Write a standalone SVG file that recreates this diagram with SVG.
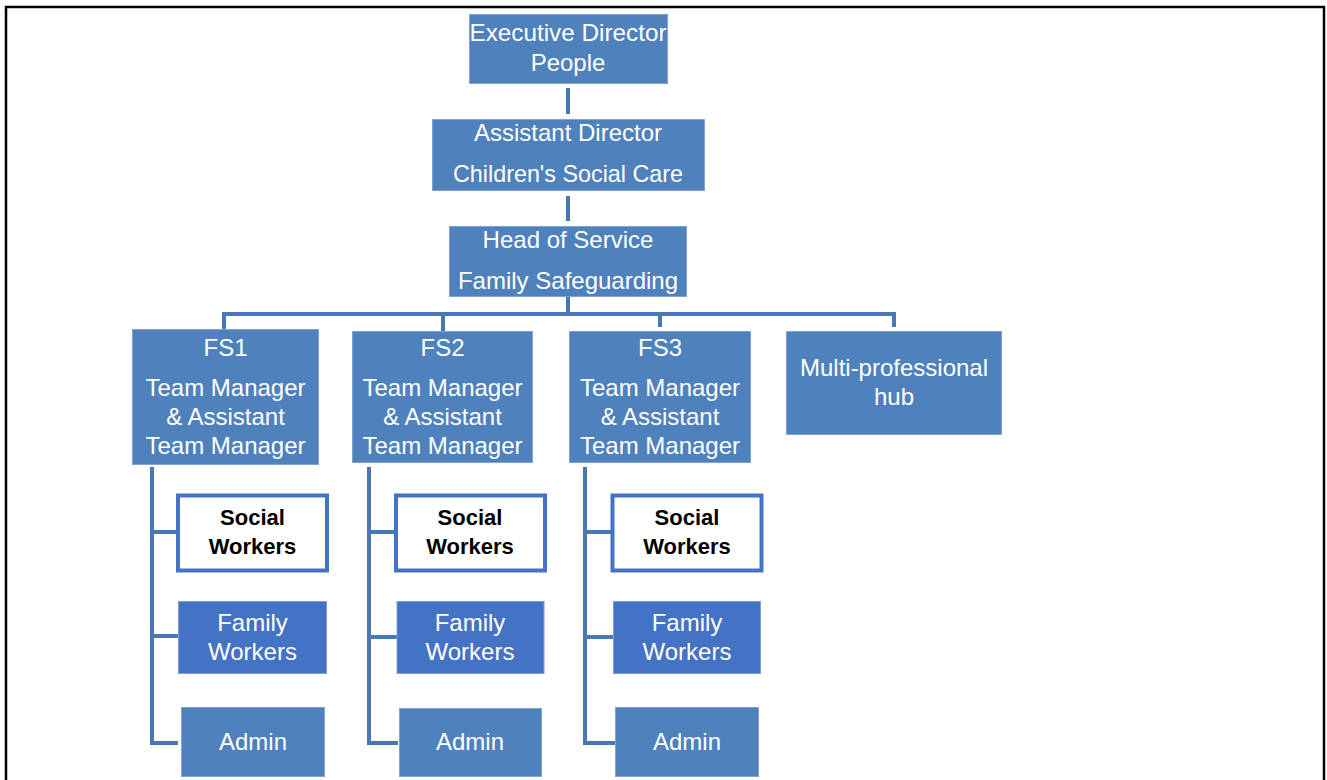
<svg xmlns="http://www.w3.org/2000/svg" width="1327" height="780" viewBox="0 0 1327 780">
<style>
.box{fill:#4F81BD;stroke:#7FA3D3;stroke-width:1}
.fw{fill:#4472C4;stroke:#7F9FD8;stroke-width:1}
.sw{fill:#ffffff;stroke:#4472C4;stroke-width:4}
.t{font-family:"Liberation Sans",Arial,sans-serif;font-size:24px;fill:#ffffff;text-anchor:middle}
.b{font-family:"Liberation Sans",Arial,sans-serif;font-size:22px;font-weight:bold;fill:#000000;text-anchor:middle}
.ln{fill:none;stroke:#4A78B4;stroke-width:4}
</style>
<rect width="1327" height="780" fill="#ffffff"/>
<path d="M6,780 V7 H1324 V780" fill="none" stroke="#000000" stroke-width="2.5"/>
<g id="connectors">
<path class="ln" d="M568,88 V114"/>
<path class="ln" d="M568,196 V221"/>
<path class="ln" d="M568,296 V314 M224,329 V314 H894 V327 M443,314 V331 M660,314 V327"/>
<path class="ln" d="M152,467 V743 H178 M152,532 H178 M152,636 H180"/>
<path class="ln" d="M369,467 V743 H398 M369,532 H395 M369,637 H398"/>
<path class="ln" d="M585,467 V743 H615 M585,532 H612 M585,637 H614"/>
</g>
<g id="exec"><rect class="box" x="469.5" y="14.5" width="198" height="69"/>
<text class="t" x="568" y="41" textLength="197" lengthAdjust="spacingAndGlyphs">Executive Director</text><text class="t" x="568" y="71">People</text></g>
<g id="ad"><rect class="box" x="432.5" y="119.5" width="272" height="71"/>
<text class="t" x="568" y="141">Assistant Director</text><text class="t" x="568" y="182" textLength="230" lengthAdjust="spacingAndGlyphs">Children's Social Care</text></g>
<g id="hos"><rect class="box" x="449.5" y="226.5" width="237" height="70"/>
<text class="t" x="568" y="248">Head of Service</text><text class="t" x="568" y="289">Family Safeguarding</text></g>
<g id="fs1"><rect class="box" x="132.5" y="329.5" width="186" height="135"/>
<text class="t" x="225.5" y="356">FS1</text><text class="t" x="225.5" y="396">Team Manager</text><text class="t" x="225.5" y="425">&amp; Assistant</text><text class="t" x="225.5" y="454">Team Manager</text></g>
<g id="fs2"><rect class="box" x="352.5" y="331.5" width="180" height="131"/>
<text class="t" x="442.5" y="356">FS2</text><text class="t" x="442.5" y="396">Team Manager</text><text class="t" x="442.5" y="425">&amp; Assistant</text><text class="t" x="442.5" y="454">Team Manager</text></g>
<g id="fs3"><rect class="box" x="569.5" y="331.5" width="181" height="131"/>
<text class="t" x="660" y="356">FS3</text><text class="t" x="660" y="396">Team Manager</text><text class="t" x="660" y="425">&amp; Assistant</text><text class="t" x="660" y="454">Team Manager</text></g>
<g id="hub"><rect class="box" x="786.5" y="331.5" width="215" height="103"/>
<text class="t" x="894" y="376">Multi-professional</text><text class="t" x="894" y="405">hub</text></g>
<g id="sw1"><rect class="sw" x="178" y="495.5" width="149" height="75"/>
<text class="b" x="252.5" y="525">Social</text><text class="b" x="252.5" y="554">Workers</text></g>
<g id="fw1"><rect class="fw" x="178.5" y="601.5" width="148" height="72"/>
<text class="t" x="252.5" y="631">Family</text><text class="t" x="252.5" y="660">Workers</text></g>
<g id="admin1"><rect class="box" x="181.5" y="707.5" width="143" height="69"/>
<text class="t" x="253" y="750">Admin</text></g>
<g id="sw2"><rect class="sw" x="396" y="495.5" width="149" height="75"/>
<text class="b" x="470" y="525">Social</text><text class="b" x="470" y="554">Workers</text></g>
<g id="fw2"><rect class="fw" x="397" y="601.5" width="147" height="72"/>
<text class="t" x="470" y="631">Family</text><text class="t" x="470" y="660">Workers</text></g>
<g id="admin2"><rect class="box" x="399.5" y="708.5" width="142" height="68"/>
<text class="t" x="470" y="750">Admin</text></g>
<g id="sw3"><rect class="sw" x="612.5" y="495.5" width="149" height="75"/>
<text class="b" x="687" y="525">Social</text><text class="b" x="687" y="554">Workers</text></g>
<g id="fw3"><rect class="fw" x="613.5" y="601.5" width="147" height="72"/>
<text class="t" x="687" y="631">Family</text><text class="t" x="687" y="660">Workers</text></g>
<g id="admin3"><rect class="box" x="615.5" y="707.5" width="143" height="69"/>
<text class="t" x="687" y="750">Admin</text></g>
</svg>
